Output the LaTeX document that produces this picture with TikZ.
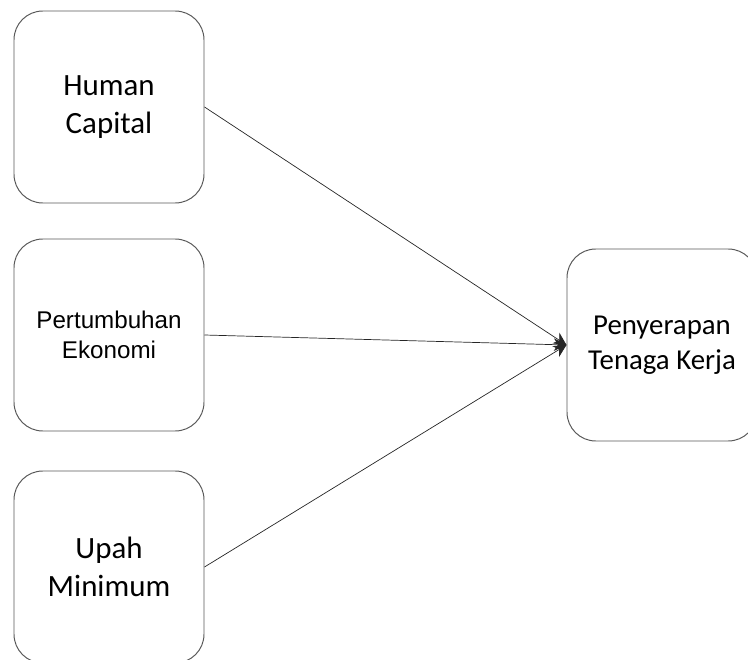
\documentclass[tikz,border=0pt]{standalone}
\usepackage{fontspec}
\setmainfont{Carlito}
\newfontfamily\arialfont{Liberation Sans}
\usetikzlibrary{arrows.meta}
\begin{document}
\begin{tikzpicture}[
    varbox/.style={draw=black!65, line width=0.7pt, rounded corners=0.72cm,
      minimum width=4.75cm, minimum height=4.8cm, align=center, inner sep=0pt},
    link/.style={draw=black!85, line width=0.5pt, -{Stealth[length=9pt,width=9pt]}}
  ]
    \useasboundingbox (0,0) rectangle (18.7,16.475);
    \node[varbox, font=\fontsize{22}{27}\selectfont] (human) at (2.725,13.8) {Human\\Capital};
    \node[varbox, font=\arialfont\fontsize{17.2}{21.5}\selectfont] (tumbuh) at (2.725,8.1) {Pertumbuhan\\Ekonomi};
    \node[varbox, font=\fontsize{22}{27}\selectfont] (upah) at (2.725,2.3) {Upah\\Minimum};
    \node[varbox, font=\fontsize{20.5}{25}\selectfont] (serap) at (16.55,7.85) {Penyerapan\\Tenaga Kerja};
    \draw[link] (human.east) -- (serap.west);
    \draw[link] (tumbuh.east) -- (serap.west);
    \draw[link] (upah.east) -- (serap.west);
  \end{tikzpicture}
\end{document}
